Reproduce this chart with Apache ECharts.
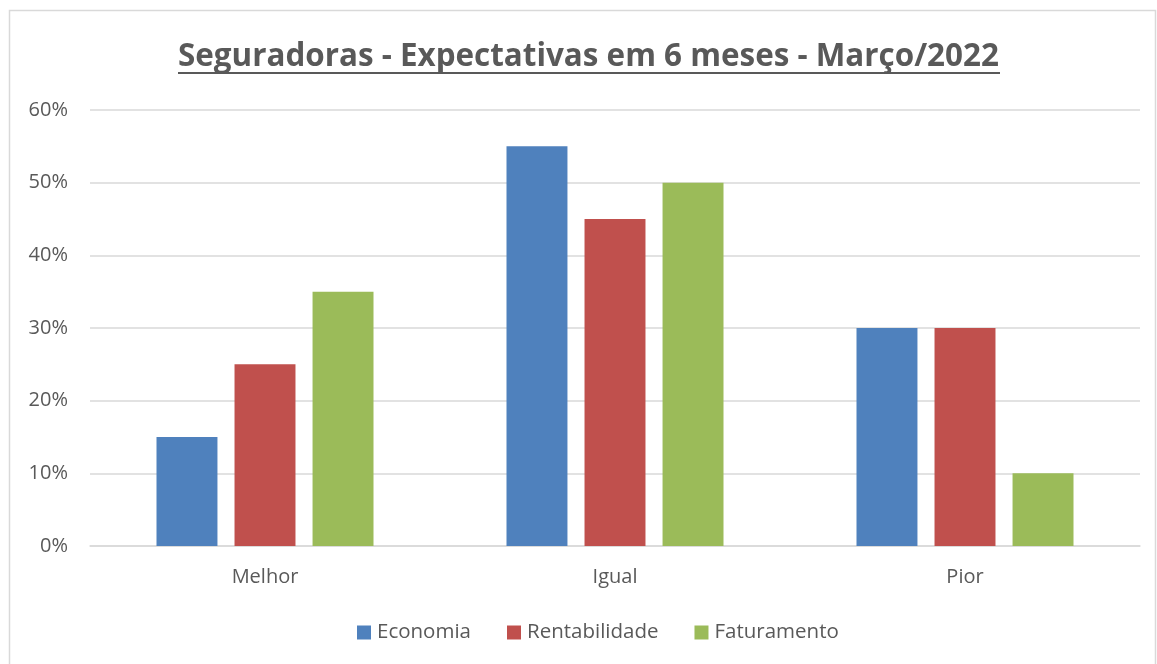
<!DOCTYPE html>
<html>
<head>
<meta charset="utf-8">
<script src="https://cdn.jsdelivr.net/npm/echarts@6/dist/echarts.min.js"></script>
<style>
  html, body { margin: 0; padding: 0; background: #fff; }
  #main { width: 1157px; height: 664px; }
</style>
</head>
<body>
<div id="main"></div>
<script>
// dados
var categorias = ['Melhor', 'Igual', 'Pior'];
var economia = [15, 55, 30];
var rentabilidade = [25, 45, 30];
var faturamento = [35, 50, 10];
var ticksY = [0, 10, 20, 30, 40, 50, 60];

var chart = echarts.init(document.getElementById('main'));
var fonte = '"Open Sans", sans-serif';

var option = {
  animation: false,
  color: ['#4F81BD', '#C0504D', '#9BBB59'],
  title: {
    text: 'Seguradoras - Expectativas em 6 meses - Março/2022',
    left: 178,
    top: 42,
    padding: 0,
    textStyle: { fontFamily: fonte, fontSize: 31.4, fontWeight: 'bold', color: '#595959' }
  },
  graphic: [
    { type: 'rect', shape: { x: 9.5, y: 10.5, width: 1146, height: 660 },
      style: { fill: null, stroke: '#D9D9D9', lineWidth: 1.5 } },
    { type: 'line', shape: { x1: 178, y1: 73, x2: 1000, y2: 73 },
      style: { stroke: '#595959', lineWidth: 2 } }
  ],
  legend: {
    bottom: 16,
    left: 352,
    itemWidth: 14,
    itemHeight: 14,
    itemGap: 36,
    icon: 'rect',
    textStyle: { fontFamily: fonte, fontSize: 20.5, color: '#595959', padding: [0, 0, 0, 1] }
  },
  grid: { left: 90, right: 17, top: 110, bottom: 118, containLabel: false },
  xAxis: {
    type: 'category',
    data: categorias,
    axisLine: { lineStyle: { color: '#D9D9D9', width: 1.5 } },
    axisTick: { show: false },
    axisLabel: { fontFamily: fonte, fontSize: 20, color: '#595959', margin: 21 }
  },
  yAxis: {
    type: 'value',
    min: ticksY[0],
    max: ticksY[ticksY.length - 1],
    interval: 10,
    axisLine: { show: false },
    axisTick: { show: false },
    splitLine: { lineStyle: { color: '#D9D9D9', width: 1.5 } },
    axisLabel: { fontFamily: fonte, fontSize: 20, color: '#595959', margin: 22,
      formatter: function (v) { return v + '%'; } }
  },
  series: [
    { name: 'Economia', type: 'bar', data: economia, barGap: '28%', barCategoryGap: '38%' },
    { name: 'Rentabilidade', type: 'bar', data: rentabilidade },
    { name: 'Faturamento', type: 'bar', data: faturamento }
  ]
};

chart.setOption(option);
</script>
</body>
</html>
